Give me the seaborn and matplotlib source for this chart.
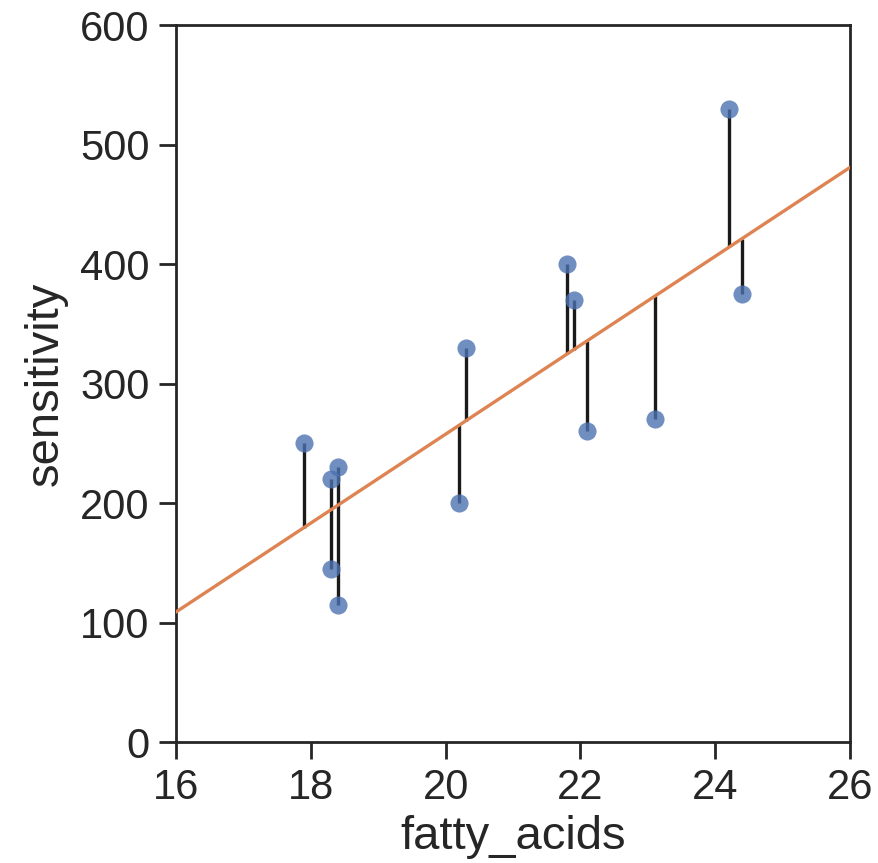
import numpy as np
import pandas as pd
import matplotlib
matplotlib.use("Agg")
import matplotlib.pyplot as plt
import seaborn as sns

fatty_acids = [17.9, 18.3, 18.3, 18.4, 18.4, 20.2, 20.3, 21.8, 21.9, 22.1, 23.1, 24.2, 24.4]
sensitivity = [250, 220, 145, 230, 115, 200, 330, 400, 370, 260, 270, 530, 375]
x_ticks = [16, 18, 20, 22, 24, 26]
y_ticks = [0, 100, 200, 300, 400, 500, 600]

sns.set_theme(style="ticks", palette="deep")
plt.rcParams['font.family'] = ['Liberation Sans', 'DejaVu Sans']

df = pd.DataFrame({"fatty_acids": fatty_acids, "sensitivity": sensitivity})
slope, intercept = np.polyfit(df.fatty_acids, df.sensitivity, 1)
df["fitted"] = intercept + slope * df.fatty_acids

fig = plt.figure(figsize=(8.79, 8.63), dpi=100)
ax = fig.add_axes([0.2002, 0.1402, 0.7668, 0.8308])
ax.set_xlim(16, 26)
ax.set_ylim(0, 600)

ax.vlines(df.fatty_acids, df.fitted, df.sensitivity, color="#1a1a1a", lw=2.4, zorder=2)
sns.regplot(data=df, x="fatty_acids", y="sensitivity", ax=ax, ci=None, truncate=False,
            scatter_kws=dict(s=170, alpha=0.8, zorder=3, linewidths=0, color="C0"),
            line_kws=dict(color="C1", lw=2.4, zorder=4))
ax.set_xlim(16, 26)
ax.set_ylim(0, 600)
ax.set_xticks(x_ticks)
ax.set_yticks(y_ticks)
ax.tick_params(labelsize=30, length=12, width=2.0, pad=7, colors="#262626")
for s in ax.spines.values():
    s.set_linewidth(2.0)
    s.set_color("#262626")
ax.set_xlabel("fatty_acids", fontsize=34, color="#262626", labelpad=5)
ax.set_ylabel("sensitivity", fontsize=34, color="#262626", labelpad=9)
fig.savefig("out.png", dpi=100)
